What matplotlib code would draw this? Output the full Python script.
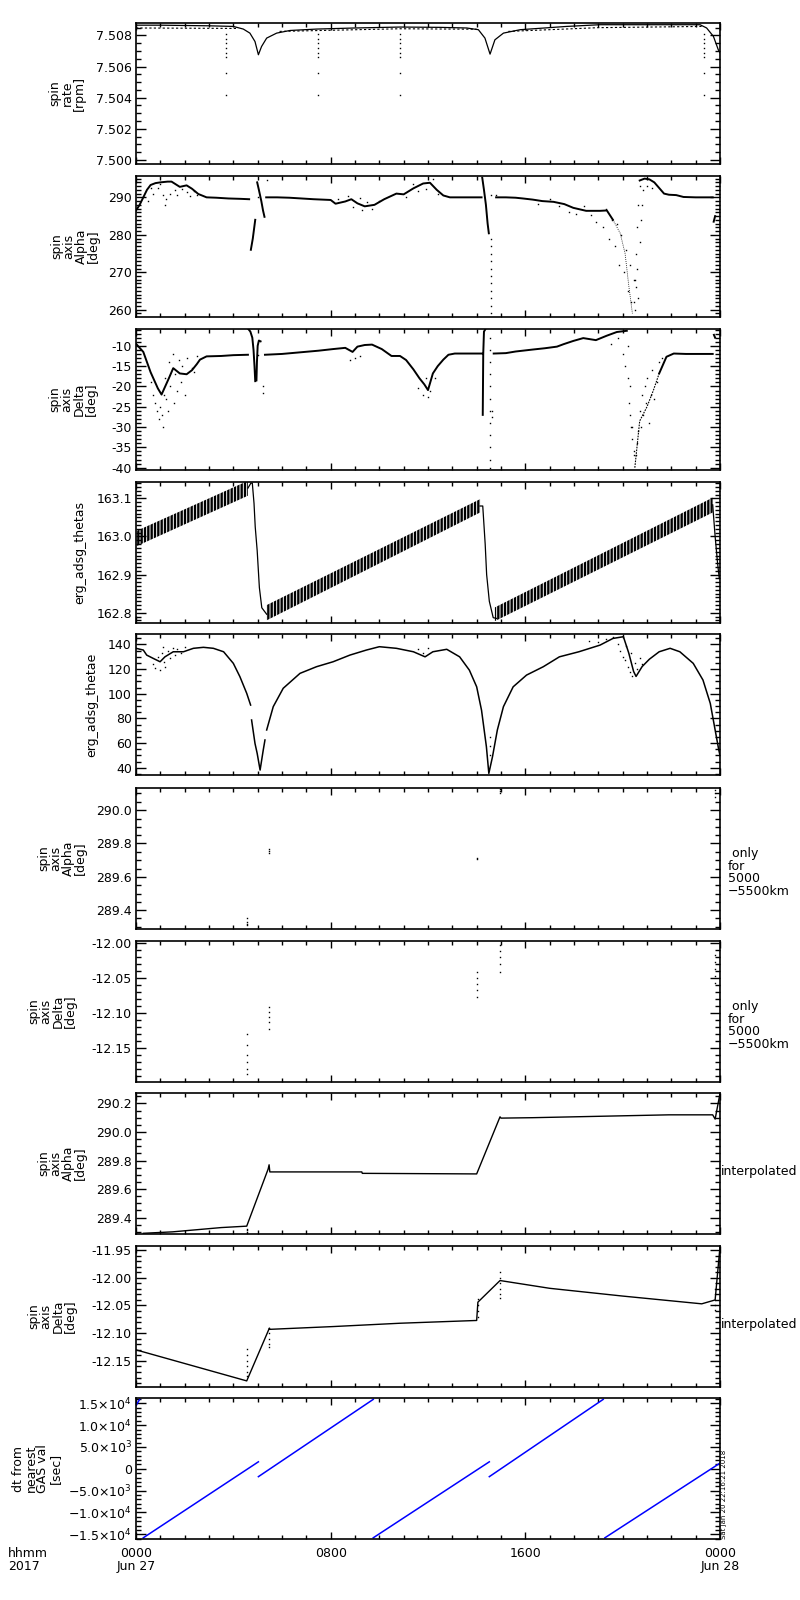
import numpy as np
import matplotlib
matplotlib.use('Agg')
import matplotlib.pyplot as plt
from matplotlib.ticker import MultipleLocator, FormatStrFormatter, FixedLocator, FixedFormatter

nan = float('nan')

# ---- data (x = hours after 2017-06-27 00:00) ----

# spin rate [rpm]
rate_h = [0, 1, 2, 3, 4.0, 4.41, 4.68, 4.89, 5.03, 5.16, 5.37, 5.78, 6.33, 7.42, 9.0, 10.85,
          12.5, 13.59, 14.07, 14.34, 14.55, 14.75, 15.1, 15.79, 17.7, 19.07, 21.0, 23.18, 23.45,
          23.73, 23.93, 24.0]
rate_v = [7.50866, 7.50866, 7.50864, 7.50862, 7.50858, 7.50841, 7.50815, 7.50761, 7.50676,
          7.50729, 7.50783, 7.50815, 7.50832, 7.50841, 7.50848, 7.50854, 7.50852, 7.50848,
          7.50837, 7.50783, 7.50680, 7.50772, 7.50815, 7.50837, 7.50858, 7.50869, 7.50869,
          7.50869, 7.50848, 7.50794, 7.50708, 7.50690]
rate2_h = [0, 4.2, nan, 5.9, 10.85, 14.0, nan, 15.3, 19.0, 23.3]
rate2_v = [7.50848, 7.50845, nan, 7.50826, 7.50843, 7.50840, nan, 7.50826, 7.50850, 7.50858]
spike_h = [3.7, 7.47, 10.85, 23.35]
spike_v = [7.5081, 7.5078, 7.5075, 7.5072, 7.5069, 7.5066, 7.5056, 7.5042]

# spin axis alpha [deg]
alpha_h = [0, 0.15, 0.3, 0.45, 0.6, 0.8, 1.0, 1.3, 1.46, 1.8, 2.08, 2.3, 2.56, 2.9, 3.3, 3.8,
           4.3, 4.65, nan, 4.72, 4.8, 4.9, nan, 4.98, 5.05, 5.15, 5.22, 5.28, nan,
           5.35, 5.8, 6.3, 6.8, 7.3, 8.0, 8.2, 8.6, 8.85, 9.1, 9.4, 9.8, 10.2, 10.7, 11.0, 11.4,
           11.8, 12.08, 12.36, 12.63, 12.9, 13.5, 14.2, nan, 14.23, 14.3, 14.38, 14.45, 14.5, nan,
           14.8, 15.2, 15.6, 15.9, 16.3, 16.7, 17.16, 17.6, 17.97, 18.5, 19.07, 19.35, 19.6,
           nan, 20.7, 20.9, 21.1, 21.3, 21.5, 21.7, 21.9, 22.2, 22.5,
           23.0, 23.5, 23.7, nan, 23.74, 23.8]
alpha_v = [286.5, 288, 290, 292, 293.3, 293.8, 294.0, 294.2, 294.2, 292.8, 293.2, 292.3, 290.9,
           290.0, 289.9, 289.7, 289.6, 289.5, nan, 276, 279, 284, nan, 294, 292, 289, 286.5,
           284.8, nan, 290, 290, 289.9, 289.7, 289.5, 289.3, 288.3, 288.9, 289.5, 288.4, 287.6,
           288, 289.5, 291, 290.8, 292.4, 293.7, 293.9, 292, 290.5, 290, 290, 290, nan,
           295.2, 292, 288, 283, 280.4, nan, 290, 290, 289.9, 289.7, 289.4, 289.0, 288.8,
           288.2, 287.2, 286.4, 286.4, 286.5, 284, nan, 294.5, 295,
           294.8, 294, 292.5, 291, 290.7, 290.6, 290.1, 290, 290, 290, nan, 283.5, 285]
# thin trace down the deep dip near 20 h
alpha_dip_h = [19.6, 19.9, 20.1, 20.24, 20.4]
alpha_dip_v = [284, 280.4, 275, 267, 259]
alpha_pts_h = [5.0, 5.4, 14.58, 14.58, 14.58, 14.58, 14.58, 14.58, 14.58, 14.58, 14.58, 14.58,
               14.58, 14.6, 14.8, 20.45, 20.5, 20.55, 20.6, 20.65, 20.7,
               0.5, 0.6, 0.7, 0.9, 1.0, 1.1, 1.2, 1.25, 1.4, 1.6, 1.7, 1.9, 2.1, 2.2, 2.4, 2.5,
               8.3, 8.7, 8.9, 9.2, 9.3, 9.5, 9.7, 10.0, 11.1, 11.4, 11.6, 11.9, 12.2, 12.4,
               16.5, 17.0, 17.4, 17.8, 18.1, 18.4, 18.7, 18.9, 19.2, 19.3, 19.45, 19.55, 19.7,
               19.75, 19.85, 19.95, 20.05, 20.15, 20.2, 20.3, 20.35, 20.45, 20.5, 20.55, 20.6,
               20.65, 20.7, 20.75, 20.8, 20.85, 21.0, 21.2]
alpha_pts_v = [290, 294.5, 279, 277, 275, 273, 271, 269, 267, 265, 263, 261, 259, 290.5, 290.7,
               262, 268, 275, 282, 288, 293,
               289, 292.5, 291, 292.5, 293.5, 290.5, 288.0, 289.5, 291, 292, 290.5, 292.2,
               291.5, 290.3, 291.8, 290.5, 289.5, 290.3, 287.5, 289.8, 286.5, 288.8, 286.8,
               289.0, 290.0, 293.5, 291.8, 292.2, 294.8, 291.0, 288.3, 289.5, 287.8, 286.0,
               285.5, 287.8, 285.2, 283.5, 282, 287, 279, 284, 277, 283, 272, 280, 270, 276,
               265, 272, 262, 268, 260, 266, 271, 263, 278, 284, 288, 292, 293, 292.5]

# spin axis delta [deg]
delta_h = [0, 0.15, 0.3, 0.45, 0.6, 0.75, 0.9, 1.05, 1.2, 1.35, 1.53, 1.8, 2.08, 2.3, 2.5, 2.63,
           2.9, 3.5, 4.0, 4.6, nan, 4.62, 4.7, 4.78, 4.83, 4.87, 4.9, nan, 4.95, 4.97, 5.0, 5.05,
           5.12, nan, 5.3, 6.0, 6.75, 7.5, 8.1, 8.6, 8.9, 9.1, 9.4, 9.7, 10.1, 10.5, 10.85,
           11.1, 11.4, 11.65, 11.85, 12.0, 12.2, 12.4, 12.63, 12.84, 13.1, 13.6, 14.2, nan,
           14.25, 14.27, 14.3, 14.35, nan, 14.7, 15.2, 15.6, 16.33, 16.8, 17.3, 17.57, 17.97,
           18.38, 18.9, 19.35, 19.76, 20.17, nan, 21.5, 21.8, 22.1,
           22.6, 23.2, 23.7, nan, 23.75, 23.8]
delta_v = [-9.5, -10.5, -11.5, -14, -16.5, -18.5, -20.5, -22, -20, -18, -15.5, -16.8, -17, -16,
           -14.5, -13.4, -12.6, -12.5, -12.3, -12.2, nan, -5.9, -6.5, -8, -11, -15, -18.7, nan,
           -18.5, -14, -10, -8.7, -8.9, nan, -12.2, -12.0, -11.6, -11.2, -10.8, -10.5, -11.5,
           -10.2, -9.8, -9.7, -10.8, -12.5, -12.5, -13.5, -15.8, -18, -19.5, -20.9, -16.8,
           -15, -13.4, -12.2, -11.9, -11.9, -11.9, nan, -27, -12, -6.5, -6, nan, -11.9, -11.8,
           -11.4, -10.9, -10.6, -10.2, -9.6, -8.8, -8.1, -8.6, -7.5, -6.6, -6.3, nan,
           -16.8, -12.7, -11.9, -12, -12, -12, nan, -7.3, -8.0]
# thin recovery trace out of the deep dip near 20.5 h
delta_dip_h = [20.5, 20.7, 21.0, 21.26, 21.5]
delta_dip_v = [-40, -28.5, -25, -21, -16.8]
delta_pts_h = [14.55, 14.55, 14.55, 14.55, 14.55, 14.55, 14.55, 14.55, 14.55, 14.55, 14.55,
               14.55, 20.2, 20.3, 20.4, 20.45, 5.2, 5.2, 14.62, 14.65, 5.0,
               0.6, 0.7, 0.8, 0.85, 0.95, 1.0, 1.05, 1.1, 1.15, 1.2, 1.25, 1.3, 1.35, 1.4, 1.5,
               1.55, 1.6, 1.7, 1.75, 1.85, 1.9, 2.0, 2.1, 2.3, 2.4, 2.5, 8.8, 9.0, 9.2, 11.6,
               11.8, 11.9, 12.0, 12.1, 12.3, 19.5, 19.8, 20.0, 20.1, 20.2, 20.25, 20.3, 20.35,
               20.4, 20.45, 20.55, 20.6, 20.65, 20.7, 20.75, 20.8, 20.85, 20.9, 20.95, 21.0,
               21.1, 21.15, 21.2, 21.3, 21.4, 21.5, 21.6]
delta_pts_v = [-8, -11, -14, -17, -20, -23, -26, -29, -32, -35, -38, -40, -10, -20, -30, -37,
               -20, -21.5, -26, -27.5, -12.3,
               -19, -22, -24, -26, -28, -25, -27, -30, -22, -18, -23, -26, -14, -20, -12, -24,
               -17, -21, -13.5, -19, -15, -22, -13, -15.5, -16.5, -12.5, -13.5, -13, -12.5,
               -20.5, -22, -18, -22.5, -21, -18, -9.5, -8, -12, -15, -18, -24, -27, -30, -33,
               -36, -37, -34, -31, -26, -30, -22, -27, -20, -24, -18, -29, -22, -16, -23, -19,
               -14, -13]

# erg_adsg_thetas (band edges of the wobble, plus the drops)
thetas_band_h = [0.0, 4.6, nan, 5.37, 14.14, nan, 14.75, 23.7]
thetas_top = [163.014, 163.146, nan, 162.820, 163.098, nan, 162.814, 163.102]
thetas_bot = [162.974, 163.107, nan, 162.780, 163.063, nan, 162.778, 163.063]
thetas_h = [4.6, 4.72, 4.78, 4.85, 4.9, 4.98, 5.07, 5.17, 5.37, nan, 14.14, 14.25, 14.35, 14.41,
            14.52, 14.68, 14.82, nan, 23.7, 23.8, 23.9, 23.97]
thetas_v = [163.127, 163.14, 163.14, 163.087, 163.025, 162.963, 162.866, 162.813, 162.796, nan,
            163.08, 163.08, 162.98, 162.9, 162.83, 162.787, 162.785, nan, 163.083, 163.0,
            162.93, 162.89]

# erg_adsg_thetae
thetae_h = [0.0, 0.3, 0.44, 0.71, 0.99, 1.19, 1.53, 1.95, 2.36, 2.77, 3.18, 3.6, 4.0, 4.27, 4.55,
            4.71, nan, 4.75, 4.89, 4.98, 5.1, 5.23, 5.3, nan, 5.37, 5.64, 6.05, 6.74, 7.42, 8.1,
            8.79, 9.47, 10.0, 10.7, 11.4, 11.88, 12.2, 12.77, 13.3, 13.7, 14.0, 14.2, 14.4,
            14.5, 14.65, 14.85, 15.1, 15.5, 16.05, 16.74, 17.4, 18.2, 19.07, 19.6, 20.03,
            20.25, 20.45, 20.55, 20.8, 21.1, 21.5, 21.95, 22.35, 22.9, 23.3, 23.6, 23.8, 23.95,
            24.0]
thetae_v = [136.8, 135.4, 131.3, 128.6, 125.9, 129.9, 134, 134, 136.8, 137.6, 136.8, 134,
            124.6, 113.8, 100.3, 90.8, nan, 78.7, 59.7, 51.6, 38.1, 54.4, 62.5, nan, 70.6,
            89.5, 104.4, 116.5, 121.9, 125.9, 131.3, 135.4, 138.1, 136.8, 134, 129.9, 134, 136,
            129.9, 119.1, 105.6, 86.6, 57, 35.4, 48.9, 70.6, 89.5, 105.6, 115.1, 121.9, 129.9,
            134, 139.4, 144.8, 146.2, 133, 118, 114, 122, 128, 134, 136.8, 134, 124.6, 111.1,
            92.2, 70.6, 54.4, 50]
thetae_pts_h = [0.7, 0.8, 0.9, 1.0, 1.05, 1.1, 1.15, 1.2, 1.3, 1.4, 1.5, 1.6, 1.7, 1.85, 2.0,
                11.6, 11.8, 12.0, 18.6, 19.0, 19.3, 19.6, 19.8, 19.9, 20.0, 20.1, 20.15, 20.2,
                20.3, 20.35, 20.4, 20.5, 20.6, 20.7, 20.8, 14.55, 14.55, 14.55]
thetae_pts_v = [124, 121, 130, 119, 133, 138, 126, 122, 135, 129, 137, 131, 136, 133, 138, 136,
                133, 137, 143, 142, 144, 146, 140, 135, 130, 127, 139, 122, 118, 133, 114, 125,
                120, 129, 124, 65, 58, 50]

# spin axis at GAS points (5000-5500 km only)
agas_h = [4.57, 4.57, 4.57, 4.58, 5.48, 5.48, 5.48, 14.03, 14.03, 14.96, 14.96, 14.96, 23.8,
          23.8, 23.8]
agas_v = [289.31, 289.33, 289.35, 289.32, 289.74, 289.755, 289.77, 289.705, 289.715, 290.10,
          290.115, 290.13, 290.08, 290.10, 290.12]
dgas_h = [4.57, 4.57, 4.57, 4.57, 4.57, 4.57, 5.48, 5.48, 5.48, 5.48, 5.48, 14.03, 14.03, 14.03,
          14.03, 14.03, 14.96, 14.96, 14.96, 14.96, 14.96, 23.8, 23.8, 23.8, 23.8, 23.8]
dgas_v = [-12.13, -12.145, -12.16, -12.17, -12.18, -12.187, -12.091, -12.098, -12.105, -12.113,
          -12.122, -12.041, -12.05, -12.058, -12.066, -12.077, -12.002, -12.011, -12.02, -12.03,
          -12.041, -12.017, -12.027, -12.037, -12.047, -12.057]

# interpolated spin axis
ainterp_h = [0.3, 1.5, 2.5, 3.5, 4.55, 5.43, 5.47, 5.5, 9.28, 9.3, 14.0, 14.96, 15.0, 16.3,
             19.1, 21.9, 23.7, 23.8, 24.0]
ainterp_v = [289.29, 289.30, 289.315, 289.33, 289.34, 289.74, 289.77, 289.72, 289.72, 289.71,
             289.706, 290.106, 290.097, 290.10, 290.11, 290.12, 290.12, 290.09, 290.27]
ainterp_pts_h = [4.57, 4.57, 4.57, 4.57]
ainterp_pts_v = [289.29, 289.30, 289.31, 289.32]
dinterp_h = [0, 4.55, 5.48, 5.5, 8.1, 10.85, 14.0, 14.05, 14.96, 17.0, 20.0, 23.25, 23.8, 24.0]
dinterp_v = [-12.13, -12.186, -12.091, -12.093, -12.088, -12.082, -12.077, -12.044, -12.005,
             -12.019, -12.033, -12.047, -12.04, -11.944]
dinterp_pts_h = [4.57, 4.57, 4.57, 4.57, 4.57, 4.57, 5.48, 5.48, 5.48, 5.48, 5.48, 14.05, 14.05,
                 14.05, 14.05, 14.96, 14.96, 14.96, 14.96, 14.96, 14.96, 23.8, 23.8, 23.8, 23.8,
                 23.8]
dinterp_pts_v = [-12.128, -12.14, -12.15, -12.16, -12.17, -12.177, -12.09, -12.10, -12.11,
                 -12.12, -12.125, -12.038, -12.05, -12.06, -12.07, -11.99, -12.0, -12.01, -12.02,
                 -12.03, -12.037, -12.02, -12.03, -12.04, -12.05, -12.058]

# dt from nearest GAS val [sec]
dt_h = [0.0, 0.15, nan, 0.3, 5.03, nan, 5.03, 9.75, nan, 9.75, 14.52, nan, 14.52, 19.2, nan,
        19.27, 24.0]
dt_v = [14500, 15900, nan, -15800, 1600, nan, -1800, 15900, nan, -15800, 1600, nan, -1800,
        15900, nan, -15800, 1300]

# ---- layout ----
W, H = 800, 1600
AX_LEFT, AX_RIGHT = 136, 720
panel_tops = [23, 176, 329, 482, 634, 788, 941, 1093, 1246, 1398]
PANEL_H = 141

plt.rcParams['font.family'] = 'DejaVu Sans'
plt.rcParams['hatch.linewidth'] = 1.7
fig = plt.figure(figsize=(8, 16), dpi=100)

FS = 9


def make_axis(i):
    top = panel_tops[i]
    ax = fig.add_axes([AX_LEFT / W, 1 - (top + PANEL_H) / H,
                       (AX_RIGHT - AX_LEFT) / W, PANEL_H / H])
    ax.set_xlim(0, 24)
    ax.xaxis.set_major_locator(FixedLocator([0, 8, 16, 24]))
    ax.xaxis.set_minor_locator(MultipleLocator(1))
    ax.tick_params(which='both', direction='in', top=True, right=True, labelsize=FS,
                   width=1.0, pad=3)
    ax.tick_params(axis='y', which='major', length=7)
    ax.tick_params(axis='y', which='minor', length=3.5)
    ax.tick_params(axis='x', which='major', length=5)
    ax.tick_params(axis='x', which='minor', length=3)
    ax.tick_params(axis='x', labelbottom=False)
    for s in ax.spines.values():
        s.set_linewidth(1.2)
    return ax


def ylab(i, text, xc):
    yc = 1 - (panel_tops[i] + PANEL_H / 2) / H
    fig.text(xc / W, yc, text, rotation=90, ha='center', va='center', fontsize=FS,
             linespacing=0.9, multialignment='center')


def yaxis(ax, lo, hi, major, minor, fmt):
    ax.set_ylim(lo, hi)
    ax.yaxis.set_major_locator(MultipleLocator(major))
    ax.yaxis.set_minor_locator(MultipleLocator(minor))
    ax.yaxis.set_major_formatter(FormatStrFormatter(fmt))


dot = dict(ls='none', marker='s', ms=1.0, color='black', mew=0)

# 1 spin rate
ax = make_axis(0)
yaxis(ax, 7.49974, 7.5088, 0.002, 0.0005, '%.3f')
ax.plot(rate_h, rate_v, color='black', lw=0.9)
ax.plot(rate2_h, rate2_v, color='black', lw=0.8, ls=(0, (2, 2)))
for h in spike_h:
    ax.plot([h] * len(spike_v), spike_v, **dot)
ylab(0, 'spin\nrate\n[rpm]', 67)

# 2 alpha
ax = make_axis(1)
yaxis(ax, 258.05, 295.7, 10, 1, '%d')
ax.plot(alpha_h, alpha_v, color='black', lw=1.4)
ax.plot(alpha_dip_h, alpha_dip_v, color='black', lw=0.6, ls=(0, (1, 1.5)))
ax.plot(alpha_pts_h, alpha_pts_v, **dot)
ylab(1, 'spin\naxis\nAlpha\n[deg]', 75)

# 3 delta
ax = make_axis(2)
yaxis(ax, -40.57, -5.86, 5, 1, '%d')
ax.plot(delta_h, delta_v, color='black', lw=1.4)
ax.plot(delta_dip_h, delta_dip_v, color='black', lw=0.8, ls=(0, (1.5, 1)))
ax.plot(delta_pts_h, delta_pts_v, **dot)
ylab(2, 'spin\naxis\nDelta\n[deg]', 73)

# 4 thetas
ax = make_axis(3)
yaxis(ax, 162.773, 163.143, 0.1, 0.01, '%.1f')
ax.fill_between(thetas_band_h, thetas_bot, thetas_top, facecolor='none', edgecolor='black',
                hatch='|' * 5, linewidth=0)
ax.plot(thetas_h, thetas_v, color='black', lw=0.9)
ylab(3, 'erg_adsg_thetas', 80)

# 5 thetae
ax = make_axis(4)
yaxis(ax, 34.1, 148.4, 20, 5, '%d')
ax.plot(thetae_h, thetae_v, color='black', lw=1.1)
ax.plot(thetae_pts_h, thetae_pts_v, **dot)
ylab(4, 'erg_adsg_thetae', 92)

# 6 alpha at GAS
ax = make_axis(5)
yaxis(ax, 289.287, 290.133, 0.2, 0.05, '%.1f')
ax.plot(agas_h, agas_v, **dot)
ylab(5, 'spin\naxis\nAlpha\n[deg]', 62)

# 7 delta at GAS
ax = make_axis(6)
yaxis(ax, -12.198, -11.9967, 0.05, 0.01, '%.2f')
ax.plot(dgas_h, dgas_v, **dot)
ylab(6, 'spin\naxis\nDelta\n[deg]', 52)

# 8 alpha interpolated
ax = make_axis(7)
yaxis(ax, 289.285, 290.273, 0.2, 0.05, '%.1f')
ax.plot(ainterp_h, ainterp_v, color='black', lw=1.0)
ax.plot(ainterp_pts_h, ainterp_pts_v, **dot)
ylab(7, 'spin\naxis\nAlpha\n[deg]', 62)

# 9 delta interpolated
ax = make_axis(8)
yaxis(ax, -12.197, -11.9427, 0.05, 0.01, '%.2f')
ax.plot(dinterp_h, dinterp_v, color='black', lw=1.0)
ax.plot(dinterp_pts_h, dinterp_pts_v, **dot)
ylab(8, 'spin\naxis\nDelta\n[deg]', 52)

# 10 dt
ax = make_axis(9)
ax.set_ylim(-16076, 16214)
dt_ticks = [-15000, -10000, -5000, 0, 5000, 10000, 15000]
dt_labels = ['\u22121.5$\\times$10$^{4}$', '\u22121.0$\\times$10$^{4}$',
             '\u22125.0$\\times$10$^{3}$', '0', '5.0$\\times$10$^{3}$',
             '1.0$\\times$10$^{4}$', '1.5$\\times$10$^{4}$']
ax.yaxis.set_major_locator(FixedLocator(dt_ticks))
ax.yaxis.set_major_formatter(FixedFormatter(dt_labels))
ax.yaxis.set_minor_locator(MultipleLocator(1000))
ax.plot(dt_h, dt_v, color='#0000ff', lw=1.1)
ax.tick_params(axis='x', labelbottom=True, pad=6)
ax.set_xticklabels(['0000\nJun 27', '0800', '1600', '0000\nJun 28'], linespacing=0.95,
                   va='top')
ylab(9, 'dt from\nnearest\nGAS val\n[sec]', 37)

# right-hand notes
for i in (5, 6):
    yc = 1 - (panel_tops[i] + PANEL_H / 2 + 14) / H
    fig.text(728 / W, yc, ' only\nfor\n5000\n\u22125500km', ha='left', va='center',
             fontsize=FS, linespacing=0.95)
for i in (7, 8):
    yc = 1 - (panel_tops[i] + PANEL_H / 2 + 8) / H
    fig.text(721 / W, yc, 'interpolated', ha='left', va='center', fontsize=FS)

fig.text(8 / W, 1 - 1547 / H, 'hhmm\n2017', ha='left', va='top', fontsize=FS, linespacing=0.95)
fig.text(724 / W, 1 - 1539 / H, 'Sat Jan 20 22:16:21 2018', rotation=90, ha='center',
         va='bottom', fontsize=5)

fig.savefig('out.png', dpi=100)
